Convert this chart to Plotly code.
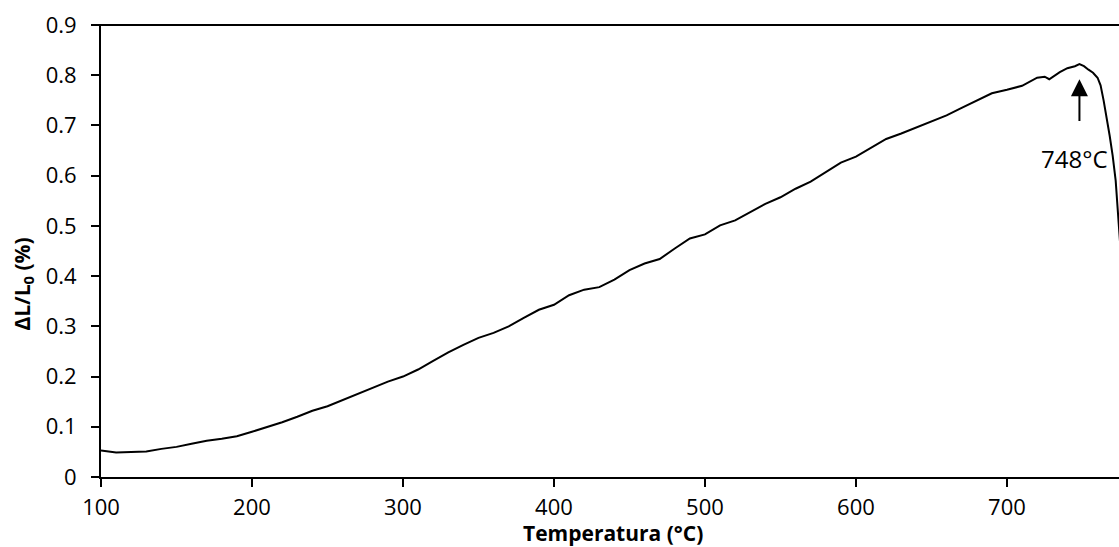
import plotly.graph_objects as go

# Dilatometry curve: relative elongation vs temperature
temperatura = [100, 110, 120, 130, 140, 150, 160, 170, 180, 190, 200, 210, 220, 230, 240,
               250, 260, 270, 280, 290, 300, 310, 320, 330, 340, 350, 360, 370, 380, 390,
               400, 410, 420, 430, 440, 450, 460, 470, 480, 490, 500, 510, 520, 530, 540,
               550, 560, 570, 580, 590, 600, 610, 620, 630, 640, 650, 660, 670, 680, 690,
               700, 710, 720, 725, 728, 735, 740, 745, 748, 751, 754, 757, 760, 762, 764,
               766, 768, 770, 772, 774, 776]
dl_l0 = [0.053, 0.049, 0.050, 0.051, 0.056, 0.060, 0.066, 0.072, 0.076, 0.081, 0.090, 0.099,
         0.109, 0.120, 0.132, 0.141, 0.153, 0.166, 0.177, 0.190, 0.200, 0.214, 0.231, 0.248,
         0.263, 0.277, 0.287, 0.300, 0.317, 0.333, 0.343, 0.362, 0.373, 0.378, 0.393, 0.412,
         0.425, 0.434, 0.455, 0.475, 0.483, 0.501, 0.511, 0.527, 0.544, 0.557, 0.574, 0.588,
         0.607, 0.626, 0.638, 0.655, 0.673, 0.684, 0.696, 0.707, 0.720, 0.735, 0.750, 0.764,
         0.771, 0.779, 0.795, 0.797, 0.792, 0.806, 0.814, 0.818, 0.822, 0.818, 0.811, 0.805,
         0.795, 0.780, 0.750, 0.718, 0.680, 0.640, 0.590, 0.505, 0.420]

x_ticks = [100, 200, 300, 400, 500, 600, 700]
y_ticks = [0, 0.1, 0.2, 0.3, 0.4, 0.5, 0.6, 0.7, 0.8, 0.9]
y_tick_text = ["0", "0.1", "0.2", "0.3", "0.4", "0.5", "0.6", "0.7", "0.8", "0.9"]

peak_t = 748
peak_label = "748°C"

FONT = "Open Sans"

fig = go.Figure()
fig.add_trace(go.Scatter(x=temperatura, y=dl_l0, mode="lines",
                         line=dict(color="black", width=2), showlegend=False,
                         cliponaxis=True))

# arrow pointing to the expansion maximum
fig.add_annotation(x=peak_t, y=0.792, ax=peak_t, ay=0.706, xref="x", yref="y",
                   axref="x", ayref="y", text="", showarrow=True,
                   arrowhead=2, arrowsize=1.7, arrowwidth=2, arrowcolor="black")
fig.add_annotation(x=745, y=0.635, xref="x", yref="y", text=peak_label,
                   showarrow=False, font=dict(family=FONT, size=24, color="black"))

# axis titles
fig.add_annotation(x=-0.077, y=0.427, xref="paper", yref="paper", xanchor="center",
                   yanchor="middle", textangle=-90, showarrow=False,
                   text="<b>ΔL/L<sub>0</sub> (%)</b>",
                   font=dict(family=FONT, size=21, color="black"))
fig.add_annotation(x=0.503, y=-0.124, xref="paper", yref="paper", xanchor="center",
                   yanchor="middle", showarrow=False,
                   text="<b>Temperatura (°C)</b>",
                   font=dict(family=FONT, size=21, color="black"))

fig.update_layout(
    width=1119, height=547,
    margin=dict(l=101, r=0, t=25, b=70),
    paper_bgcolor="white", plot_bgcolor="white",
    font=dict(family=FONT, size=22, color="black"),
    xaxis=dict(range=[100, 774.2], tickvals=x_ticks, ticks="outside", ticklen=8,
               tickwidth=1.5, tickcolor="black", showline=True, linecolor="black",
               linewidth=2, mirror=False, showgrid=False, zeroline=False,
               ticklabelstandoff=2),
    yaxis=dict(range=[0, 0.9], tickvals=y_ticks, ticktext=y_tick_text, ticks="outside",
               ticklen=8, tickwidth=1.5, tickcolor="black", showline=True,
               linecolor="black", linewidth=2, showgrid=False, zeroline=False,
               ticklabelstandoff=10),
)

# top border of the plot area
fig.add_shape(type="line", xref="paper", yref="paper", x0=-0.008, x1=1, y0=1, y1=1,
              line=dict(color="black", width=2))

fig.write_html("out.html")
